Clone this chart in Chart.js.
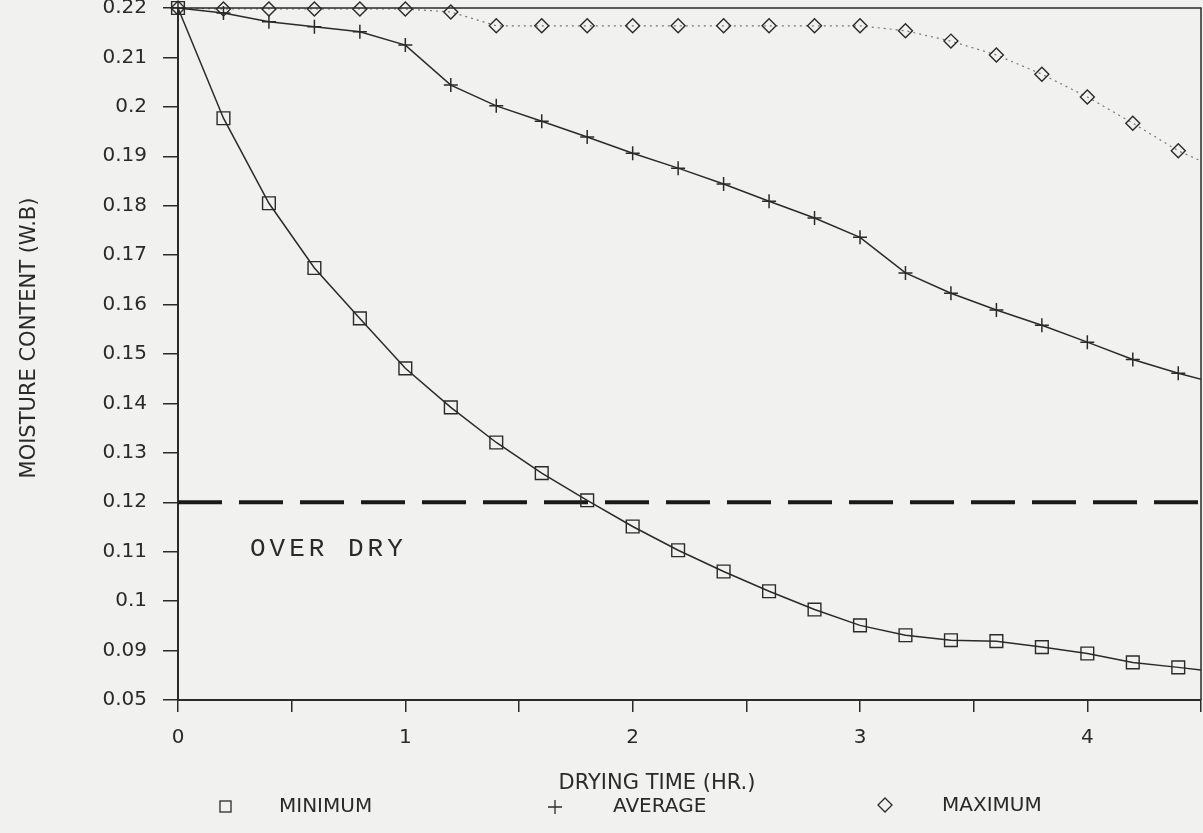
<!DOCTYPE html>
<html>
<head>
<meta charset="utf-8">
<script src="https://cdn.jsdelivr.net/npm/chart.js@4.4.0/dist/chart.umd.min.js"></script>
<style>
  html, body { margin: 0; padding: 0; background: #f1f1ef; }
  #wrap { width: 1203px; height: 833px; }
</style>
</head>
<body>
<div id="wrap"><canvas id="chart" width="1203" height="833"></canvas></div>
<script>
// drying time in hours, one reading every 0.2 hr (last one runs past the frame)
const dryingTime = [0, 0.2, 0.4, 0.6, 0.8, 1.0, 1.2, 1.4, 1.6, 1.8, 2.0, 2.2,
                    2.4, 2.6, 2.8, 3.0, 3.2, 3.4, 3.6, 3.8, 4.0, 4.2, 4.4, 4.6];

const minimum = [0.22, 0.1977, 0.1805, 0.1674, 0.1572, 0.1471, 0.1392, 0.1321,
                 0.1259, 0.1204, 0.1151, 0.1103, 0.1060, 0.1020, 0.0983, 0.0951,
                 0.0931, 0.0921, 0.0919, 0.0907, 0.0894, 0.0876, 0.0866, 0.0855];

const average = [0.22, 0.2190, 0.2172, 0.2162, 0.2152, 0.2125, 0.2044, 0.2002,
                 0.1971, 0.1939, 0.1906, 0.1876, 0.1844, 0.1809, 0.1775, 0.1736,
                 0.1664, 0.1623, 0.1589, 0.1558, 0.1524, 0.1489, 0.1461, 0.1437];

const maximum = [0.22, 0.2198, 0.2198, 0.2198, 0.2198, 0.2198, 0.2192, 0.2164,
                 0.2164, 0.2164, 0.2164, 0.2164, 0.2164, 0.2164, 0.2164, 0.2164,
                 0.2154, 0.2133, 0.2105, 0.2066, 0.2020, 0.1967, 0.1911, 0.1870];

const overDryLimit = 0.12;

const yTickLabels = ['0.05', '0.09', '0.1', '0.11', '0.12', '0.13', '0.14', '0.15',
                     '0.16', '0.17', '0.18', '0.19', '0.2', '0.21', '0.22'];
const xTickLabels = ['0', '1', '2', '3', '4'];

const ink = '#2a2a2a';
const font = "'DejaVu Sans', sans-serif";

function pairs(ys) {
    return ys.map((y, i) => ({ x: dryingTime[i], y: y }));
}

const overlay = {
    id: 'overlay',
    afterDatasetsDraw(chart) {
        const ctx = chart.ctx;
        const a = chart.chartArea;
        ctx.save();
        ctx.strokeStyle = ink;
        ctx.lineWidth = 1.5;
        ctx.beginPath();
        ctx.moveTo(a.left, a.top);
        ctx.lineTo(a.right, a.top);
        ctx.lineTo(a.right, a.bottom);
        ctx.stroke();

        ctx.fillStyle = ink;
        ctx.font = "26px 'Liberation Mono', monospace";
        ctx.letterSpacing = '4px';
        ctx.textBaseline = 'alphabetic';
        ctx.fillText('OVER DRY', 250, 556);
        ctx.restore();
    },
    afterDraw(chart) {
        const ctx = chart.ctx;
        ctx.save();
        ctx.fillStyle = ink;
        ctx.strokeStyle = ink;
        ctx.textBaseline = 'middle';

        // axis titles
        ctx.font = '21px ' + font;
        ctx.textAlign = 'center';
        ctx.fillText('DRYING TIME (HR.)', 657, 784);
        ctx.save();
        ctx.translate(30, 338);
        ctx.rotate(-Math.PI / 2);
        ctx.font = '21px ' + font;
        ctx.fillText('MOISTURE CONTENT (W.B)', 0, 0);
        ctx.restore();

        // legend row
        ctx.textAlign = 'left';
        ctx.font = '20px ' + font;
        ctx.lineWidth = 1.3;
        ctx.strokeRect(220, 801, 11, 11);
        ctx.fillText('MINIMUM', 279, 807);
        ctx.beginPath();
        ctx.moveTo(548, 807); ctx.lineTo(562, 807);
        ctx.moveTo(555, 800); ctx.lineTo(555, 814);
        ctx.stroke();
        ctx.fillText('AVERAGE', 613, 807);
        ctx.beginPath();
        ctx.moveTo(885, 798); ctx.lineTo(892, 805); ctx.lineTo(885, 812); ctx.lineTo(878, 805);
        ctx.closePath();
        ctx.stroke();
        ctx.fillText('MAXIMUM', 942, 806);
        ctx.restore();
    }
};

new Chart(document.getElementById('chart'), {
    type: 'line',
    data: {
        datasets: [
            {
                label: 'MINIMUM',
                data: pairs(minimum),
                borderColor: ink,
                borderWidth: 1.5,
                pointStyle: 'rect',
                pointRadius: 9,
                pointBorderWidth: 1.4,
                pointBackgroundColor: 'rgba(0,0,0,0)',
                pointBorderColor: ink,
                clip: { left: 12, top: 12, right: 0, bottom: 0 }
            },
            {
                label: 'AVERAGE',
                data: pairs(average),
                borderColor: ink,
                borderWidth: 1.5,
                pointStyle: 'cross',
                pointRadius: 7,
                pointBorderWidth: 1.5,
                pointBorderColor: ink,
                clip: { left: 12, top: 12, right: 0, bottom: 0 }
            },
            {
                label: 'MAXIMUM',
                data: pairs(maximum),
                borderColor: '#777',
                borderWidth: 1.2,
                borderDash: [2, 4],
                pointStyle: 'rectRot',
                pointRadius: 7,
                pointBorderWidth: 1.4,
                pointBackgroundColor: 'rgba(0,0,0,0)',
                pointBorderColor: ink,
                clip: { left: 12, top: 12, right: 0, bottom: 0 }
            },
            {
                label: 'limit',
                data: [{ x: 0, y: overDryLimit }, { x: 4.6, y: overDryLimit }],
                borderColor: '#1a1a1a',
                borderWidth: 4,
                borderDash: [44, 17],
                pointRadius: 0
            }
        ]
    },
    options: {
        responsive: false,
        animation: false,
        layout: { autoPadding: false, padding: { top: 8, right: 2, left: 0, bottom: 0 } },
        plugins: {
            legend: { display: false },
            tooltip: { enabled: false }
        },
        scales: {
            x: {
                type: 'linear',
                min: 0,
                max: 4.5,
                grid: { drawOnChartArea: false, color: ink, lineWidth: 1.5, tickLength: 12 },
                border: { color: ink, width: 2 },
                ticks: {
                    stepSize: 0.5,
                    autoSkip: false,
                    maxRotation: 0,
                    color: ink,
                    font: { family: font, size: 20 },
                    padding: 14,
                    callback: (v) => Number.isInteger(v) ? xTickLabels[v] : ''
                },
                afterFit: (s) => { s.height = 133; s.paddingLeft = 0; s.paddingRight = 0; }
            },
            y: {
                min: 0.08,
                max: 0.22,
                grid: { drawOnChartArea: false, color: ink, lineWidth: 1.5, tickLength: 15 },
                border: { color: ink, width: 2 },
                ticks: {
                    stepSize: 0.01,
                    autoSkip: false,
                    color: ink,
                    font: { family: font, size: 20 },
                    padding: 16,
                    callback: (v, i) => yTickLabels[i]
                },
                afterFit: (s) => { s.width = 178; s.paddingTop = 0; s.paddingBottom = 0; }
            }
        }
    },
    plugins: [overlay]
});
</script>
</body>
</html>
